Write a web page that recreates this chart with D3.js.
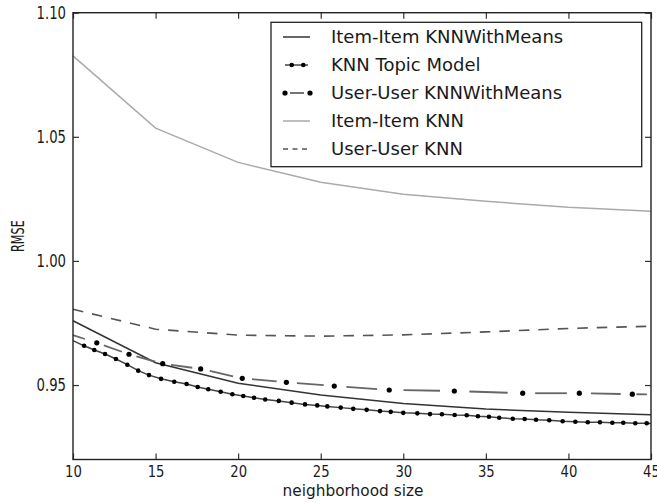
<!DOCTYPE html>
<html>
<head>
<meta charset="utf-8">
<script src="https://cdn.jsdelivr.net/npm/d3@7"></script>
<style>
  body { margin: 0; background: #fff; }
  text { font-family: "DejaVu Sans", sans-serif; fill: #1a1a1a; }
</style>
</head>
<body>
<svg id="chart"></svg>
<script>
// neighborhood sizes where the plain models were evaluated
const sizes = [10, 15, 20, 25, 30, 35, 40, 45];
const itemItemMeans = [0.9759, 0.9590, 0.9507, 0.9460, 0.9426, 0.9403, 0.9390, 0.9380];
const itemItemKnn = [1.0826, 1.0535, 1.0397, 1.0317, 1.0269, 1.0240, 1.0216, 1.0200];
const userUserKnn = [0.9805, 0.9725, 0.9701, 0.9697, 0.9702, 0.9714, 0.9728, 0.9737];

// user-user KNNWithMeans, marker positions (plus the two ends of the line)
const userMeansX = [10, 11.44, 13.39, 15.43, 17.73, 20.25, 22.92, 25.82, 29.15, 33.09, 37.23, 40.66, 43.87, 45];
const userMeansY = [0.9701, 0.9670, 0.9624, 0.9586, 0.9565, 0.9527, 0.9511, 0.9496, 0.9480, 0.9476, 0.9467, 0.9467, 0.9463, 0.9462];

// KNN topic model, dotted points (plus the two ends of the line)
const topicX = [10, 10.67, 11.29, 11.94, 12.60, 13.29, 13.95, 14.60, 15.33, 16.13, 16.88, 17.55, 18.19, 18.94, 19.65,
  20.31, 20.96, 21.64, 22.46, 23.24, 24.05, 24.79, 25.40, 26.21, 26.97, 27.78, 28.59, 29.24, 30.00, 30.85, 31.62,
  32.34, 33.11, 33.84, 34.52, 35.19, 35.81, 36.63, 37.35, 38.04, 38.84, 39.65, 40.42, 41.17, 41.91, 42.66, 43.32,
  44.05, 44.74, 45];
const topicY = [0.9679, 0.9658, 0.9641, 0.9625, 0.9605, 0.9582, 0.9558, 0.9540, 0.9525, 0.9513, 0.9504, 0.9492, 0.9483,
  0.9473, 0.9463, 0.9456, 0.9449, 0.9442, 0.9436, 0.9429, 0.9422, 0.9418, 0.9414, 0.9409, 0.9404, 0.9400, 0.9395,
  0.9392, 0.9388, 0.9386, 0.9383, 0.9382, 0.9379, 0.9378, 0.9374, 0.9372, 0.9368, 0.9364, 0.9363, 0.9360, 0.9358,
  0.9354, 0.9352, 0.9350, 0.9350, 0.9348, 0.9348, 0.9346, 0.9346, 0.9345];

const xTicks = [10, 15, 20, 25, 30, 35, 40, 45];
const yTicks = [0.95, 1.00, 1.05, 1.10];
const legendLabels = ["Item-Item KNNWithMeans", "KNN Topic Model", "User-User KNNWithMeans", "Item-Item KNN", "User-User KNN"];

const width = 657;
const height = 502;
const margin = { top: 12.7, right: 6, bottom: 42.5, left: 73 };

const svg = d3.select("#chart").attr("width", width).attr("height", height);

const x = d3.scaleLinear().domain([10, 45]).range([margin.left, width - margin.right]);
const y = d3.scaleLinear().domain([0.92, 1.10]).range([height - margin.bottom, margin.top]);

const line = d3.line().x((d) => x(d[0])).y((d) => y(d[1]));
const zip = (xs, ys) => xs.map((v, i) => [v, ys[i]]);

const plot = svg.append("g");

// item-item KNN (light grey)
plot.append("path").datum(zip(sizes, itemItemKnn))
  .attr("d", line).attr("fill", "none").attr("stroke", "#aaaaaa").attr("stroke-width", 1.5);

// user-user KNN (dashed)
plot.append("path").datum(zip(sizes, userUserKnn))
  .attr("d", line).attr("fill", "none").attr("stroke", "#555").attr("stroke-width", 1.6)
  .attr("stroke-dasharray", "10.5,9");

// item-item KNNWithMeans (solid dark)
plot.append("path").datum(zip(sizes, itemItemMeans))
  .attr("d", line).attr("fill", "none").attr("stroke", "#333").attr("stroke-width", 1.5);

// user-user KNNWithMeans: one long dash between each pair of markers
const userPts = zip(userMeansX, userMeansY).map((d) => [x(d[0]), y(d[1])]);
const dashes = d3.pairs(userPts).map(([a, b], i) => {
  const t0 = i === 0 ? 0 : 0.22;
  const t1 = i === 0 ? 0.5 : 0.78;
  return [a[0] + (b[0] - a[0]) * t0, a[1] + (b[1] - a[1]) * t0, a[0] + (b[0] - a[0]) * t1, a[1] + (b[1] - a[1]) * t1];
});
plot.append("g").selectAll("line").data(dashes).join("line")
  .attr("x1", (d) => d[0]).attr("y1", (d) => d[1])
  .attr("x2", (d) => d[2]).attr("y2", (d) => d[3])
  .attr("stroke", "#666").attr("stroke-width", 1.8);
plot.append("g").selectAll("circle")
  .data(zip(userMeansX, userMeansY).filter((d) => d[0] > 10 && d[0] < 45))
  .join("circle")
  .attr("cx", (d) => x(d[0])).attr("cy", (d) => y(d[1])).attr("r", 2.6).attr("fill", "#000");

// KNN topic model: line with dots
const topic = zip(topicX, topicY);
plot.append("path").datum(topic)
  .attr("d", line).attr("fill", "none").attr("stroke", "#444").attr("stroke-width", 1.5);
plot.append("g").selectAll("circle")
  .data(topic.filter((d) => d[0] > 10 && d[0] < 45))
  .join("circle")
  .attr("cx", (d) => x(d[0])).attr("cy", (d) => y(d[1])).attr("r", 2.3).attr("fill", "#000");

// axes, ticks pointing inwards on all four sides
const xAxis = svg.append("g")
  .attr("transform", `translate(0,${y(0.92)})`)
  .call(d3.axisBottom(x).tickValues(xTicks).tickSize(-6).tickPadding(6).tickFormat(d3.format("d")));
const yAxis = svg.append("g")
  .attr("transform", `translate(${x(10)},0)`)
  .call(d3.axisLeft(y).tickValues(yTicks).tickSize(-6).tickPadding(7).tickFormat(d3.format(".2f")));
svg.append("g")
  .attr("transform", `translate(0,${y(1.10)})`)
  .call(d3.axisTop(x).tickValues(xTicks).tickSize(-6).tickFormat(""));
svg.append("g")
  .attr("transform", `translate(${x(45)},0)`)
  .call(d3.axisRight(y).tickValues(yTicks).tickSize(-6).tickFormat(""));

svg.selectAll(".domain").remove();
svg.selectAll(".tick line").attr("stroke", "#333").attr("stroke-width", 1.2);
svg.selectAll(".tick text").attr("font-size", 17).attr("fill", "#1a1a1a")
  .attr("font-family", "DejaVu Sans, sans-serif");
xAxis.selectAll(".tick text").attr("font-size", 16.5).attr("transform", "scale(0.8,1)");
yAxis.selectAll(".tick text").attr("x", -7 / 0.78).attr("transform", "scale(0.78,1)");

// frame
svg.append("rect")
  .attr("x", x(10)).attr("y", y(1.10))
  .attr("width", x(45) - x(10)).attr("height", y(0.92) - y(1.10))
  .attr("fill", "none").attr("stroke", "#222").attr("stroke-width", 1.4);

// axis titles
svg.append("text")
  .attr("transform", `translate(${(x(10) + x(45)) / 2 - 9},496) scale(0.93,1)`)
  .attr("text-anchor", "middle").attr("font-size", 16.5)
  .text("neighborhood size");
svg.append("text")
  .attr("transform", `translate(24,${y(1.01)}) rotate(-90) scale(0.66,1)`)
  .attr("text-anchor", "middle").attr("font-size", 17)
  .text("RMSE");

// legend
const legend = svg.append("g");
legend.append("rect")
  .attr("x", 271).attr("y", 22.3).attr("width", 370.7).attr("height", 144.4)
  .attr("fill", "#fff").attr("stroke", "#222").attr("stroke-width", 1.3);

const rows = legend.selectAll("g.row").data(legendLabels).join("g")
  .attr("class", "row")
  .attr("transform", (d, i) => `translate(0,${37 + i * 28})`);

rows.append("text")
  .attr("x", 331).attr("dy", "0.36em").attr("font-size", 18)
  .text((d) => d);

const sample = (i, x1, x2, color, w, dash) => {
  const l = rows.filter((d, j) => j === i).append("line")
    .attr("x1", x1).attr("x2", x2).attr("y1", 0).attr("y2", 0)
    .attr("stroke", color).attr("stroke-width", w);
  if (dash) l.attr("stroke-dasharray", dash);
};
const dot = (i, cx, r) => rows.filter((d, j) => j === i).append("circle")
  .attr("cx", cx).attr("cy", 0).attr("r", r).attr("fill", "#000");

sample(0, 283, 310, "#333", 1.5);
sample(1, 285, 308, "#444", 1.5);
dot(1, 291.7, 2.3); dot(1, 303.3, 2.3);
sample(2, 290, 304, "#666", 1.8);
dot(2, 285, 2.6); dot(2, 310, 2.6);
sample(3, 283, 310, "#aaaaaa", 1.5);
sample(4, 283, 310, "#555", 1.6, "5,4.5");
</script>
</body>
</html>
